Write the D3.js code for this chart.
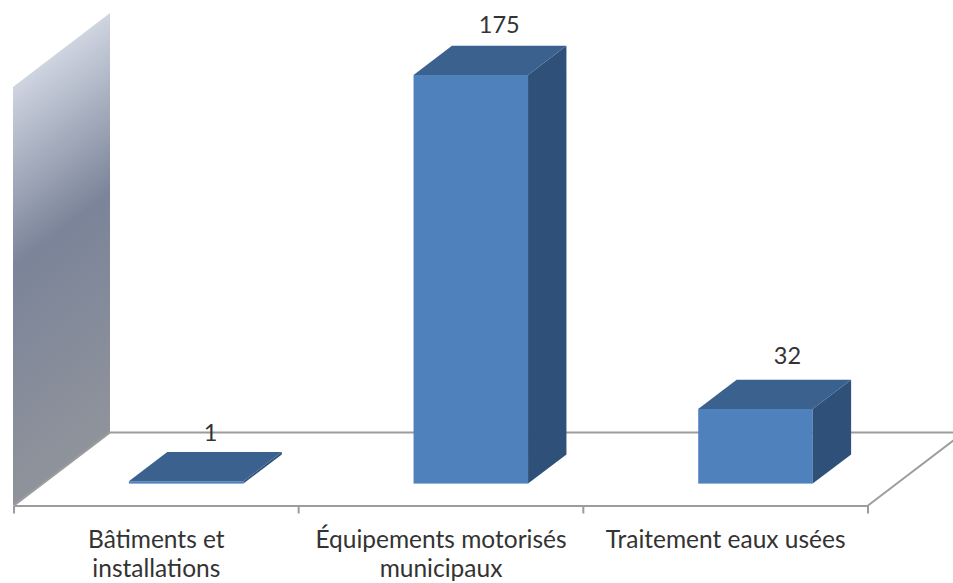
<!DOCTYPE html>
<html>
<head>
<meta charset="utf-8">
<script src="https://cdn.jsdelivr.net/npm/d3@7"></script>
<style>
  html, body { margin: 0; padding: 0; background: #fff; }
  svg { display: block; }
  text { font-family: Lato, "Open Sans", sans-serif; fill: #333; }
</style>
</head>
<body>
<svg id="chart" width="953" height="583"></svg>
<script>
var categories = ["Bâtiments et installations", "Équipements motorisés municipaux", "Traitement eaux usées"];
var categoryLines = [["Bâtiments et", "installations"], ["Équipements motorisés", "municipaux"], ["Traitement eaux usées"]];
var values = [1, 175, 32];

var width = 953, height = 583;
var floorFront = 505.5, floorLeft = 14, floorRight = 868;
// offset of the back wall relative to the front edge of the floor
var depth = { x: 96, y: -73 };
// bars sit 30% of the way into the floor and take this much of its depth
var barInset = 0.3, barDepth = 0.4, barWidth = 114.5, barShift = 29.8;
// value labels drift right across the chart and sit a little above the top face
var labelShift = [24.5, 28.5, 32], labelGap = [11.5, 12.7, 15.4];

var svg = d3.select("#chart");

var x = d3.scaleBand().domain(categories).range([floorLeft, floorRight]);
var y = d3.scaleLinear().domain([0, 175]).range([floorFront + depth.y * barInset, 75]);

var defs = svg.append("defs");
var wallGrad = defs.append("linearGradient")
  .attr("id", "wallGrad")
  .attr("gradientUnits", "userSpaceOnUse")
  .attr("x1", 13).attr("y1", 87)
  .attr("x2", 215).attr("y2", 351);
wallGrad.append("stop").attr("offset", 0).attr("stop-color", "#ced4e0");
wallGrad.append("stop").attr("offset", 0.43).attr("stop-color", "#7b8499");
wallGrad.append("stop").attr("offset", 1).attr("stop-color", "#8f939b");

// back wall
var wallTop = 87;
svg.append("path")
  .attr("d", d3.line()([
    [floorLeft - 1, wallTop],
    [floorLeft - 1 + depth.x + 1, wallTop + depth.y - 1],
    [floorLeft + depth.x, floorFront + depth.y],
    [floorLeft - 1, floorFront]
  ]) + "Z")
  .attr("fill", "url(#wallGrad)");

// floor outline
var floorStroke = "#9c9c9c";
var floorG = svg.append("g").attr("fill", "none").attr("stroke", floorStroke).attr("stroke-width", 2);
floorG.append("path").attr("d", d3.line()([
  [floorLeft, floorFront],
  [floorLeft + depth.x, floorFront + depth.y],
  [width, floorFront + depth.y]
]));
floorG.append("path").attr("d", d3.line()([
  [floorRight, floorFront],
  [floorRight + depth.x, floorFront + depth.y]
]));

// category axis: labels from the band scale, tick marks on the band edges
var axis = svg.append("g")
  .attr("transform", "translate(0," + floorFront + ")")
  .call(d3.axisBottom(x).tickSize(0).tickFormat(""));
axis.select(".domain").attr("stroke", floorStroke).attr("stroke-width", 2);
axis.selectAll(".tick text").remove();

var edges = categories.map(function (d) { return x(d); }).concat(floorRight);
axis.selectAll("line.edge")
  .data(edges)
  .enter().append("line")
  .attr("class", "edge")
  .attr("x1", function (d) { return d; })
  .attr("x2", function (d) { return d; })
  .attr("y1", 0)
  .attr("y2", 8)
  .attr("stroke", floorStroke)
  .attr("stroke-width", 2);

axis.selectAll(".tick").each(function (d, i) {
  var label = d3.select(this).append("text")
    .attr("text-anchor", "middle")
    .attr("font-size", 24.5);
  categoryLines[i].forEach(function (line, j) {
    label.append("tspan")
      .attr("x", 0)
      .attr("y", 42 + j * 29.5)
      .text(line);
  });
});

// bars
function barFrontX(d) {
  return x(d) + x.bandwidth() / 2 - barWidth / 2 + barShift;
}
var dx = depth.x * barDepth, dy = depth.y * barDepth;

var bars = svg.selectAll("g.bar")
  .data(categories.map(function (c, i) { return { name: c, value: values[i], index: i }; }))
  .enter().append("g")
  .attr("class", "bar");

// front face
bars.append("rect")
  .attr("x", function (d) { return barFrontX(d.name); })
  .attr("y", function (d) { return y(d.value); })
  .attr("width", barWidth)
  .attr("height", function (d) { return y(0) - y(d.value); })
  .attr("fill", "#4f81bd");

// side face
bars.append("path")
  .attr("d", function (d) {
    var x1 = barFrontX(d.name) + barWidth;
    return d3.line()([
      [x1, y(d.value)],
      [x1 + dx, y(d.value) + dy],
      [x1 + dx, y(0) + dy],
      [x1, y(0)]
    ]) + "Z";
  })
  .attr("fill", "#2f5079");

// top face
bars.append("path")
  .attr("d", function (d) {
    var x0 = barFrontX(d.name);
    return d3.line()([
      [x0, y(d.value)],
      [x0 + dx, y(d.value) + dy],
      [x0 + barWidth + dx, y(d.value) + dy],
      [x0 + barWidth, y(d.value)]
    ]) + "Z";
  })
  .attr("fill", "#3b618f");

// value labels
bars.append("text")
  .attr("x", function (d) { return barFrontX(d.name) + barWidth / 2 + labelShift[d.index]; })
  .attr("y", function (d) { return y(d.value) + dy - labelGap[d.index]; })
  .attr("text-anchor", "middle")
  .attr("font-size", 23.5)
  .text(function (d) { return d.value; });
</script>
</body>
</html>
